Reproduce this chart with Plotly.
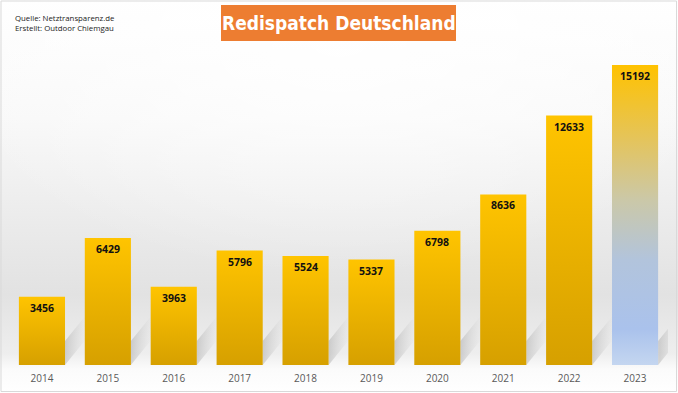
import base64
import plotly.graph_objects as go

years = ["2014", "2015", "2016", "2017", "2018", "2019", "2020", "2021", "2022", "2023"]
values = [3456, 6429, 3963, 5796, 5524, 5337, 6798, 8636, 12633, 15192]
title_text = "Redispatch Deutschland"
source_lines = ["Quelle: Netztransparenz.de", "Erstellt: Outdoor Chiemgau"]

W, H = 678, 393
ML, MR, MT, MB = 9, 10, 49, 28
YMAX = 16000
HALF = 0.35  # half bar width in category units

gold_scale = [[0, "#D6A000"], [1, "#FFC400"]]
last_scale = [[0, "#C4D6F0"], [0.12, "#AAC2EC"], [0.35, "#B2C4DC"],
              [0.55, "#CBC8A8"], [0.75, "#E4C45C"], [1, "#FFC200"]]

fig = go.Figure()

# background gradient via svg image
svg = f'''<svg xmlns="http://www.w3.org/2000/svg" width="{W}" height="{H}" preserveAspectRatio="none" viewBox="0 0 {W} {H}">
<defs><linearGradient id="g" x1="0" y1="0" x2="0" y2="1">
<stop offset="0" stop-color="#ffffff"/><stop offset="0.3" stop-color="#f8f8f8"/>
<stop offset="0.75" stop-color="#e2e2e2"/><stop offset="0.9" stop-color="#eeeeee"/>
<stop offset="0.94" stop-color="#fbfbfb"/><stop offset="1" stop-color="#ffffff"/></linearGradient>
<radialGradient id="r" cx="0.5" cy="0.1" r="0.6"><stop offset="0" stop-color="#ffffff" stop-opacity="0.9"/>
<stop offset="1" stop-color="#ffffff" stop-opacity="0"/></radialGradient></defs>
<rect width="{W}" height="{H}" fill="url(#g)"/><rect width="{W}" height="{H}" fill="url(#r)"/></svg>'''
src = "data:image/svg+xml;base64," + base64.b64encode(svg.encode()).decode()
pw, ph = W - ML - MR, H - MT - MB
fig.add_layout_image(dict(source=src, xref="paper", yref="paper",
                          x=-ML / pw, y=1 + MT / ph, sizex=W / pw, sizey=H / ph,
                          sizing="stretch", layer="below", xanchor="left", yanchor="top"))

# floor shadows
px_per_unit = ph / YMAX
for i, v in enumerate(values):
    xr = i + HALF
    dx = 0.32
    rise = 26 / px_per_unit
    band = min(24 / px_per_unit, v)
    fig.add_trace(go.Scatter(
        x=[xr, xr + dx, xr + dx, xr, xr],
        y=[0, rise, rise + band, band, 0],
        fill="toself", mode="lines", line=dict(width=0),
        fillgradient=dict(type="horizontal", start=xr, stop=xr + dx,
                          colorscale=[[0, "rgba(140,140,140,0.35)"], [1, "rgba(180,180,180,0.0)"]]),
        hoverinfo="skip", showlegend=False))

# bars
for i, (yr, v) in enumerate(zip(years, values)):
    scale = last_scale if i == len(values) - 1 else gold_scale
    fig.add_trace(go.Scatter(
        x=[i - HALF, i + HALF, i + HALF, i - HALF, i - HALF],
        y=[0, 0, v, v, 0],
        fill="toself", mode="lines", line=dict(width=0),
        fillgradient=dict(type="vertical", start=0, stop=v, colorscale=scale),
        hoverinfo="skip", showlegend=False, name=yr))

# value labels
for i, v in enumerate(values):
    fig.add_annotation(x=i, y=v, yshift=-11, text=str(v), showarrow=False,
                       xanchor="center", yanchor="middle",
                       font=dict(family="Open Sans", size=10.5, color="#111111", weight="bold"))

fig.update_xaxes(range=[-0.5, len(values) - 0.5], tickmode="array",
                 tickvals=list(range(len(values))), ticktext=years,
                 showgrid=False, zeroline=False, showline=False, ticks="",
                 ticklabelstandoff=6,
                 tickfont=dict(family="Open Sans", size=10, color="#595959"),
                 fixedrange=True)
fig.update_yaxes(range=[0, YMAX], visible=False, showgrid=False, fixedrange=True)

# title box
fig.add_shape(type="rect", xref="paper", yref="paper",
              x0=(221 - ML) / pw, x1=(456 - ML) / pw,
              y0=1 + (MT - 41) / ph, y1=1 + (MT - 5) / ph,
              fillcolor="#ED7D31", line=dict(width=0), layer="above")
fig.add_annotation(xref="paper", yref="paper", x=(338.5 - ML) / pw, y=1 + (MT - 23) / ph,
                   text=title_text, showarrow=False, xanchor="center", yanchor="middle",
                   font=dict(family="DejaVu Sans Condensed", size=19, color="white", weight="bold"))
fig.add_annotation(xref="paper", yref="paper", x=(13 - ML) / pw, y=1 + (MT - 11) / ph,
                   text="<br>".join(source_lines), showarrow=False, xanchor="left", yanchor="top",
                   align="left",
                   font=dict(family="Open Sans", size=7.8, color="#222222"))

# outer frame
fig.add_shape(type="rect", xref="paper", yref="paper",
              x0=(-ML + 1) / pw, x1=(W - ML - 1.5) / pw,
              y0=-(MB - 1.5) / ph, y1=1 + (MT - 1) / ph,
              line=dict(color="#D9D9D9", width=1), fillcolor="rgba(0,0,0,0)")

fig.update_layout(width=W, height=H, margin=dict(l=ML, r=MR, t=MT, b=MB),
                  paper_bgcolor="white", plot_bgcolor="rgba(0,0,0,0)",
                  showlegend=False)

fig.write_html("out.html", config={"displayModeBar": False, "staticPlot": True},
               post_script="document.body.style.margin='0';document.body.style.overflow='hidden';")
